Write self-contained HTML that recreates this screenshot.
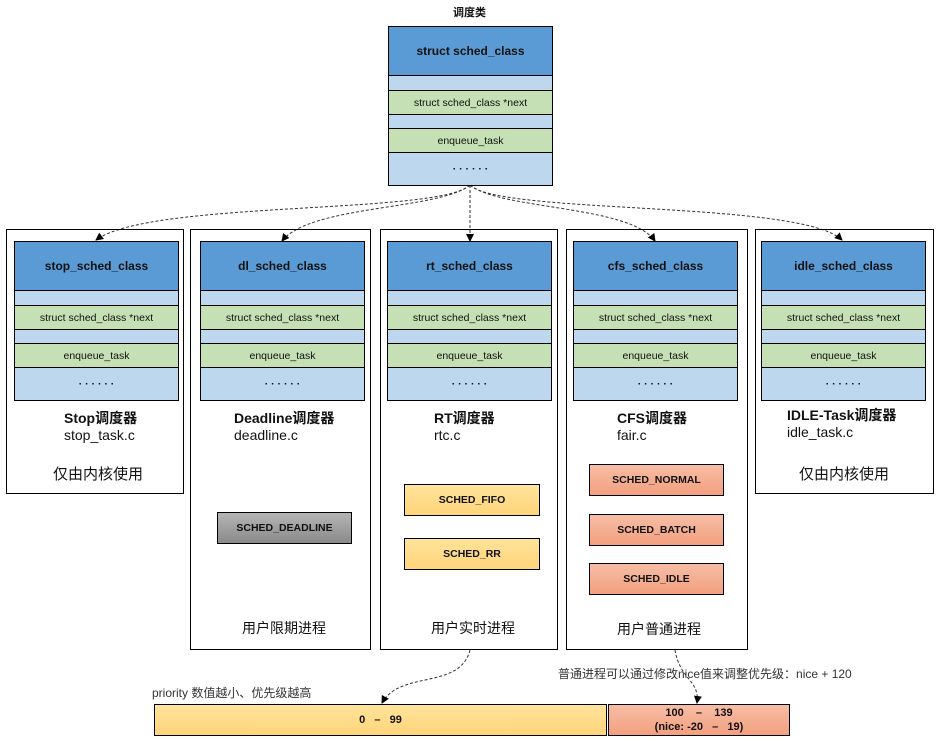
<!DOCTYPE html>
<html><head><meta charset="utf-8"><style>
body{margin:0;width:938px;height:742px;background:#fff;position:relative;overflow:hidden;font-family:"Liberation Sans","Noto Sans CJK SC",sans-serif;color:#111}
.a{position:absolute;box-sizing:border-box}
.o{border:1px solid #000}
.r{position:absolute;left:0;right:0;display:flex;align-items:center;justify-content:center;box-sizing:border-box;border-top:1px solid #000;font-size:10.5px}
.t{position:absolute;white-space:nowrap}
.sb{border:1px solid #000;display:flex;align-items:center;justify-content:center;font-size:10.5px;font-weight:bold}
.y{background:linear-gradient(#ffe49a,#ffd47c)}
.p{background:linear-gradient(#f6bda5,#f3a07f)}
</style></head><body>
<svg class="a" style="left:0;top:0" width="938" height="742">
<defs><marker id="m" markerWidth="8" markerHeight="8" refX="7" refY="4" orient="auto" markerUnits="userSpaceOnUse"><path d="M0,0L8,4L0,8z" fill="#000"/></marker></defs>
<g fill="none" stroke="#333" stroke-dasharray="3,2" stroke-width="1">
<path d="M470,185 C440,215 150,200 96,240" marker-end="url(#m)"/>
<path d="M470,185 C440,210 310,205 282,241" marker-end="url(#m)"/>
<path d="M470,185 L470,241" marker-end="url(#m)"/>
<path d="M470,185 C500,210 630,205 655,241" marker-end="url(#m)"/>
<path d="M470,185 C500,215 800,200 842,240" marker-end="url(#m)"/>
<path d="M470,650 C460,690 400,670 382,703" marker-end="url(#m)"/>
<path d="M675,650 C680,680 700,680 697,703" marker-end="url(#m)"/>
</g></svg>
<div class="t" style="left:453px;top:4px;font-size:11px;font-weight:bold">调度类</div>
<div id="top"></div>
<script>
function blk(x,y,w,name){
 var h=[48,15,24,14,24,33];var c=['#5b9bd5','#bdd7ee','#c5e0b4','#bdd7ee','#c5e0b4','#bdd7ee'];
 var txt=[name,'','struct sched_class *next','','enqueue_task','· · · · · ·'];
 var s='<div class="a o" style="left:'+x+'px;top:'+y+'px;width:'+w+'px;height:'+(h.reduce((a,b)=>a+b)+2)+'px;overflow:hidden">';var cy=0;
 for(var i=0;i<6;i++){s+='<div class="r" style="top:'+cy+'px;height:'+h[i]+'px;background:'+c[i]+';'+(i==0?'border-top:none;font-weight:bold;font-size:12px;':'')+(i==5?'font-weight:bold;':'')+'">'+txt[i]+'</div>';cy+=h[i];}
 return s+'</div>';}
var H='';
H+=blk(388,26,165,'struct sched_class');
var cols=[[6,178,265,14,'stop_sched_class'],[190,181,421,200,'dl_sched_class'],[380,178,421,387,'rt_sched_class'],[566,182,421,573,'cfs_sched_class'],[755,179,265,761,'idle_sched_class']];
cols.forEach(function(c){H+='<div class="a o" style="left:'+c[0]+'px;top:229px;width:'+c[1]+'px;height:'+c[2]+'px"></div>';H+=blk(c[3],241,165,c[4]);});
document.getElementById('top').outerHTML=H;
</script>
<div class="t" style="left:64px;top:408px;font-size:14px;font-weight:bold">Stop调度器</div>
<div class="t" style="left:64px;top:427px;font-size:14px">stop_task.c</div>
<div class="t" style="left:53px;top:463px;font-size:15px">仅由内核使用</div>
<div class="t" style="left:234px;top:408px;font-size:14px;font-weight:bold">Deadline调度器</div>
<div class="t" style="left:234px;top:427px;font-size:14px">deadline.c</div>
<div class="t" style="left:242px;top:618px;font-size:14px">用户限期进程</div>
<div class="t" style="left:434px;top:408px;font-size:14px;font-weight:bold">RT调度器</div>
<div class="t" style="left:434px;top:427px;font-size:14px">rtc.c</div>
<div class="t" style="left:431px;top:618px;font-size:14px">用户实时进程</div>
<div class="t" style="left:617px;top:408px;font-size:14px;font-weight:bold">CFS调度器</div>
<div class="t" style="left:617px;top:427px;font-size:14px">fair.c</div>
<div class="t" style="left:617px;top:619px;font-size:14px">用户普通进程</div>
<div class="t" style="left:787px;top:405px;font-size:14px;font-weight:bold">IDLE-Task调度器</div>
<div class="t" style="left:787px;top:424px;font-size:14px">idle_task.c</div>
<div class="t" style="left:799px;top:463px;font-size:15px">仅由内核使用</div>
<div class="a sb" style="left:217px;top:512px;width:135px;height:32px;background:linear-gradient(#b5b5b5,#8a8a8a)">SCHED_DEADLINE</div>
<div class="a sb y" style="left:404px;top:484px;width:136px;height:32px">SCHED_FIFO</div>
<div class="a sb y" style="left:404px;top:538px;width:136px;height:32px">SCHED_RR</div>
<div class="a sb p" style="left:589px;top:464px;width:135px;height:32px">SCHED_NORMAL</div>
<div class="a sb p" style="left:589px;top:514px;width:135px;height:32px">SCHED_BATCH</div>
<div class="a sb p" style="left:589px;top:563px;width:135px;height:32px">SCHED_IDLE</div>
<div class="t" style="left:152px;top:684px;font-size:12px;color:#333">priority 数值越小、优先级越高</div>
<div class="t" style="left:558px;top:665px;font-size:12px;color:#333">普通进程可以通过修改nice值来调整优先级：nice + 120</div>
<div class="a sb y" style="left:154px;top:704px;width:453px;height:32px;font-size:11px">0 &nbsp; – &nbsp; 99</div>
<div class="a sb p" style="left:608px;top:704px;width:182px;height:32px;font-size:11px;flex-direction:column;line-height:14px"><span>100 &nbsp;&nbsp; – &nbsp;&nbsp; 139</span><span>(nice: -20 &nbsp; – &nbsp; 19)</span></div>
</body></html>
